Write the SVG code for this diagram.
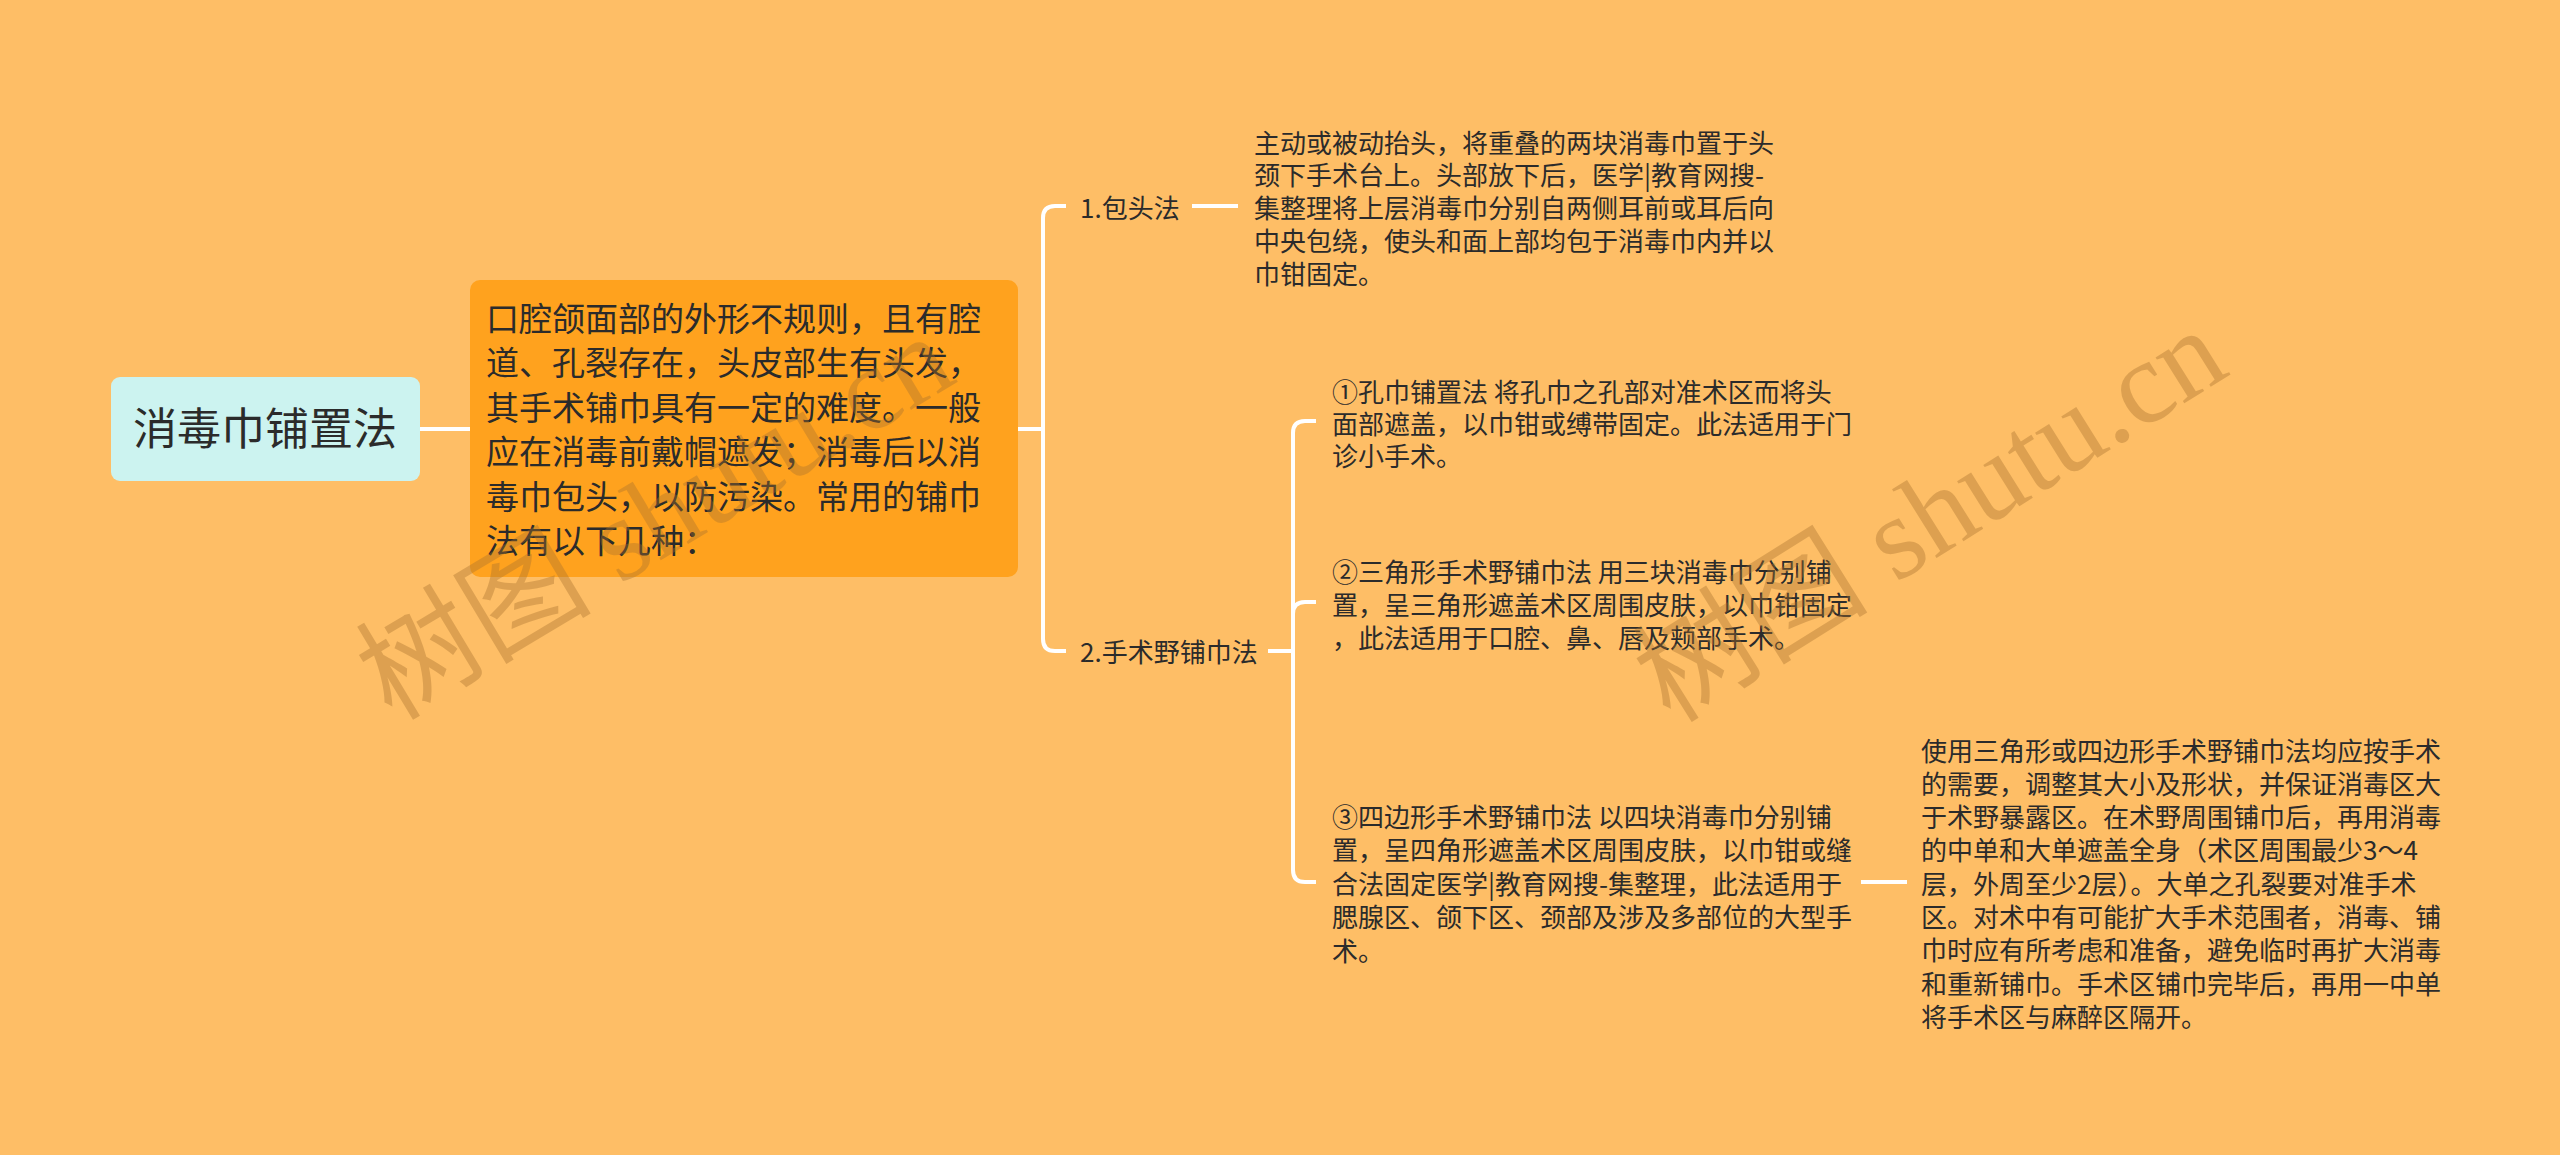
<svg xmlns="http://www.w3.org/2000/svg" width="2560" height="1155" viewBox="0 0 2560 1155">
<style>
.t{font-family:"Noto Sans CJK SC","Noto Sans",sans-serif;fill:#2b2b2b}
.leaf{font-size:26px}
.main{font-size:33px}
.root{font-size:44px}
.conn{fill:none;stroke:#ffffff;stroke-width:4;stroke-linecap:butt;stroke-linejoin:round}
.wm{font-family:"Liberation Serif","Noto Sans CJK SC",serif;font-size:118px;fill:#a8722f;opacity:0.38}
</style>
<rect x="0" y="0" width="2560" height="1155" fill="#febe66"/>
<g id="connectors">
<path class="conn" d="M420,429 L470,429"/>
<path class="conn" d="M1018,429 L1043,429 L1043,218 Q1043,206 1055,206 L1066,206"/>
<path class="conn" d="M1018,429 L1043,429 L1043,639 Q1043,651 1055,651 L1066,651"/>
<path class="conn" d="M1192,206 L1238,206"/>
<path class="conn" d="M1268,651 L1293,651 L1293,433 Q1293,421 1305,421 L1316,421"/>
<path class="conn" d="M1293,651 L1293,614 Q1293,602 1305,602 L1316,602"/>
<path class="conn" d="M1293,651 L1293,870 Q1293,882 1305,882 L1316,882"/>
<path class="conn" d="M1861,882 L1907,882"/>
</g>
<g id="root">
<rect x="111" y="377" width="309" height="104" rx="9" fill="#ccf3f0"/>
<text class="t root" x="265" y="445" text-anchor="middle">消毒巾铺置法</text>
</g>
<g id="main">
<rect x="470" y="280" width="548" height="297" rx="10" fill="#ffa21e"/>
<text class="t main" x="486" y="331">
<tspan x="486" y="331">口腔颌面部的外形不规则，且有腔</tspan>
<tspan x="486" y="375.4">道、孔裂存在，头皮部生有头发，</tspan>
<tspan x="486" y="419.8">其手术铺巾具有一定的难度。一般</tspan>
<tspan x="486" y="464.2">应在消毒前戴帽遮发；消毒后以消</tspan>
<tspan x="486" y="508.6">毒巾包头，以防污染。常用的铺巾</tspan>
<tspan x="486" y="553">法有以下几种：</tspan>
</text>
</g>
<g id="label1">
<text class="t leaf" x="1080" y="217.5">1.包头法</text>
</g>
<g id="leaf1">
<text class="t leaf">
<tspan x="1254" y="152.5">主动或被动抬头，将重叠的两块消毒巾置于头</tspan>
<tspan x="1254" y="185.25">颈下手术台上。头部放下后，医学|教育网搜-</tspan>
<tspan x="1254" y="218">集整理将上层消毒巾分别自两侧耳前或耳后向</tspan>
<tspan x="1254" y="250.75">中央包绕，使头和面上部均包于消毒巾内并以</tspan>
<tspan x="1254" y="283.5">巾钳固定。</tspan>
</text>
</g>
<g id="label2">
<text class="t leaf" x="1080" y="661.5">2.手术野铺巾法</text>
</g>
<g id="leaf2a">
<text class="t leaf">
<tspan x="1332" y="401.5">①孔巾铺置法 将孔巾之孔部对准术区而将头</tspan>
<tspan x="1332" y="433.5">面部遮盖，以巾钳或缚带固定。此法适用于门</tspan>
<tspan x="1332" y="465.5">诊小手术。</tspan>
</text>
</g>
<g id="leaf2b">
<text class="t leaf">
<tspan x="1332" y="581.5">②三角形手术野铺巾法 用三块消毒巾分别铺</tspan>
<tspan x="1332" y="614.5">置，呈三角形遮盖术区周围皮肤，以巾钳固定</tspan>
<tspan x="1332" y="647.5">，此法适用于口腔、鼻、唇及颊部手术。</tspan>
</text>
</g>
<g id="leaf2c">
<text class="t leaf">
<tspan x="1332" y="826.5">③四边形手术野铺巾法 以四块消毒巾分别铺</tspan>
<tspan x="1332" y="860">置，呈四角形遮盖术区周围皮肤，以巾钳或缝</tspan>
<tspan x="1332" y="893.5">合法固定医学|教育网搜-集整理，此法适用于</tspan>
<tspan x="1332" y="927">腮腺区、颌下区、颈部及涉及多部位的大型手</tspan>
<tspan x="1332" y="960.5">术。</tspan>
</text>
</g>
<g id="leaf2c-note">
<text class="t leaf">
<tspan x="1921" y="760.5">使用三角形或四边形手术野铺巾法均应按手术</tspan>
<tspan x="1921" y="793.8">的需要，调整其大小及形状，并保证消毒区大</tspan>
<tspan x="1921" y="827.1">于术野暴露区。在术野周围铺巾后，再用消毒</tspan>
<tspan x="1921" y="860.4">的中单和大单遮盖全身（术区周围最少3～4</tspan>
<tspan x="1921" y="893.7">层，外周至少2层）。大单之孔裂要对准手术</tspan>
<tspan x="1921" y="927">区。对术中有可能扩大手术范围者，消毒、铺</tspan>
<tspan x="1921" y="960.3">巾时应有所考虑和准备，避免临时再扩大消毒</tspan>
<tspan x="1921" y="993.6">和重新铺巾。手术区铺巾完毕后，再用一中单</tspan>
<tspan x="1921" y="1026.9">将手术区与麻醉区隔开。</tspan>
</text>
</g>
<g id="watermarks">
<text class="wm" transform="translate(655,517) rotate(-31)" x="0" y="40" text-anchor="middle">树图 shutu.cn</text>
<text class="wm" transform="translate(1930,515) rotate(-32)" x="0" y="40" text-anchor="middle">树图 shutu.cn</text>
</g>
</svg>
